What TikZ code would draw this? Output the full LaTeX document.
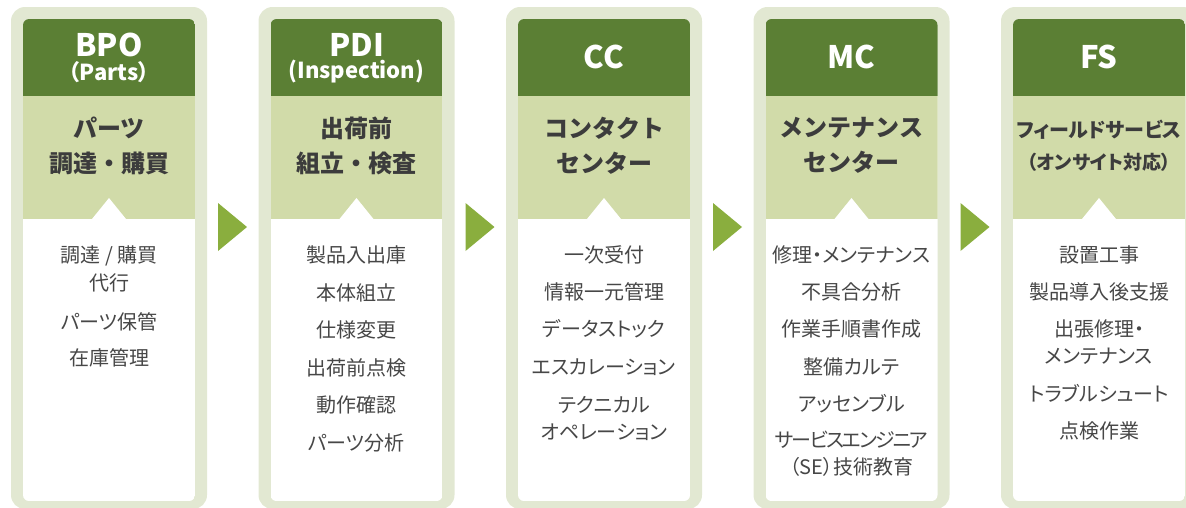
\documentclass[tikz,border=0pt]{standalone}
\usepackage{fontspec}
\newfontfamily\jp[RawFeature=+palt]{Noto Sans CJK JP}
\newfontfamily\jpn{Noto Sans CJK JP}
\definecolor{outerc}{HTML}{E2E8D2}
\definecolor{darkc}{HTML}{5B7F34}
\definecolor{lightc}{HTML}{D1DBA9}
\definecolor{arrowc}{HTML}{8AAE3E}
\definecolor{hdc}{HTML}{3C3C3C}
\definecolor{txtc}{HTML}{474747}
\begin{document}
\begin{tikzpicture}[x=1pt,y=-1pt,
  txt/.style={font=\jp\fontsize{20}{28}\selectfont, text=txtc, align=center, inner sep=0pt},
  hd/.style={font=\jpn\bfseries\fontsize{24}{35}\selectfont, text=hdc, align=center, inner sep=0pt},
  ttl/.style={font=\jp\bfseries\fontsize{31}{31}\selectfont, text=white, inner sep=0pt},
  ttlsub/.style={font=\jp\bfseries\fontsize{22}{22}\selectfont, text=white, inner sep=0pt}]
\useasboundingbox (0,0) rectangle (1186,507);
\foreach \i in {0,...,4}{
  \begin{scope}[xshift=\i*247.5pt]
    \fill[outerc, rounded corners=14pt] (11,7) rectangle (207,509);
    \begin{scope}
      \clip[rounded corners=6pt] (23,19) rectangle (195,501);
      \fill[white] (23,19) rectangle (195,501);
      \fill[darkc] (23,19) rectangle (195,96);
      \fill[lightc] (23,96) rectangle (195,219);
      \fill[white] (92,219) -- (109,198) -- (126,219) -- cycle;
    \end{scope}
  \end{scope}
}
\foreach \i in {0,...,3}{
  \begin{scope}[xshift=\i*247.5pt]
    \fill[arrowc] (218,203) -- (247,227) -- (218,251) -- cycle;
  \end{scope}
}
% Column 1
\node[ttl] (t1) at (109,45) {BPO};
\node[ttlsub] (s1) at (109,72) {（Parts）};
\node[hd] (h1) at (109,145.5) {パーツ\\調達・購買};
\node[txt] (b1a) at (109,269) {調達 / 購買\\代行};
\node[txt] (b1b) at (109,322) {パーツ保管};
\node[txt] (b1c) at (109,358) {在庫管理};
% Column 2
\node[ttl] (t2) at (356.5,45) {PDI};
\node[ttlsub] (s2) at (356.5,72) {(Inspection)};
\node[hd] (h2) at (356.5,145.5) {出荷前\\組立・検査};
\node[txt] (b2a) at (356.5,255) {製品入出庫};
\node[txt] (b2b) at (356.5,292.5) {本体組立};
\node[txt] (b2c) at (356.5,330) {仕様変更};
\node[txt] (b2d) at (356.5,367.5) {出荷前点検};
\node[txt] (b2e) at (356.5,405) {動作確認};
\node[txt] (b2f) at (356.5,442.5) {パーツ分析};
% Column 3
\node[ttl] (t3) at (604,57) {CC};
\node[hd] (h3) at (604,145.5) {コンタクト\\センター};
\node[txt] (b3a) at (604,255) {一次受付};
\node[txt] (b3b) at (604,292) {情報一元管理};
\node[txt] (b3c) at (604,329) {データストック};
\node[txt] (b3d) at (604,367) {エスカレーション};
\node[txt, font=\jp\fontsize{20}{27}\selectfont] (b3e) at (604,418) {テクニカル\\オペレーション};
% Column 4
\node[ttl] (t4) at (851.5,57) {MC};
\node[hd] (h4) at (851.5,145.5) {メンテナンス\\センター};
\node[txt] (b4a) at (851.5,255) {修理・メンテナンス};
\node[txt] (b4b) at (851.5,292) {不具合分析};
\node[txt] (b4c) at (851.5,329) {作業手順書作成};
\node[txt] (b4d) at (851.5,367) {整備カルテ};
\node[txt] (b4e) at (851.5,404) {アッセンブル};
\node[txt] (b4f) at (851.5,440) {\addfontfeature{LetterSpace=-10}サービスエンジニア};
\node[txt] (b4g) at (851.5,467) {（SE）技術教育};
% Column 5
\node[ttl] (t5) at (1099,57) {FS};
\node[hd, font=\jp\bfseries\fontsize{20}{20}\selectfont] (h5a) at (1099,130) {フィールドサービス};
\node[hd, font=\jp\bfseries\fontsize{19}{19}\selectfont] (h5b) at (1099,162) {（オンサイト対応）};
\node[txt] (b5a) at (1099,255) {設置工事};
\node[txt] (b5b) at (1099,292) {製品導入後支援};
\node[txt, font=\jp\fontsize{20}{27}\selectfont] (b5c) at (1099,342.5) {出張修理・\\メンテナンス};
\node[txt] (b5d) at (1099,393) {トラブルシュート};
\node[txt] (b5e) at (1099,431) {点検作業};
\end{tikzpicture}
\end{document}
